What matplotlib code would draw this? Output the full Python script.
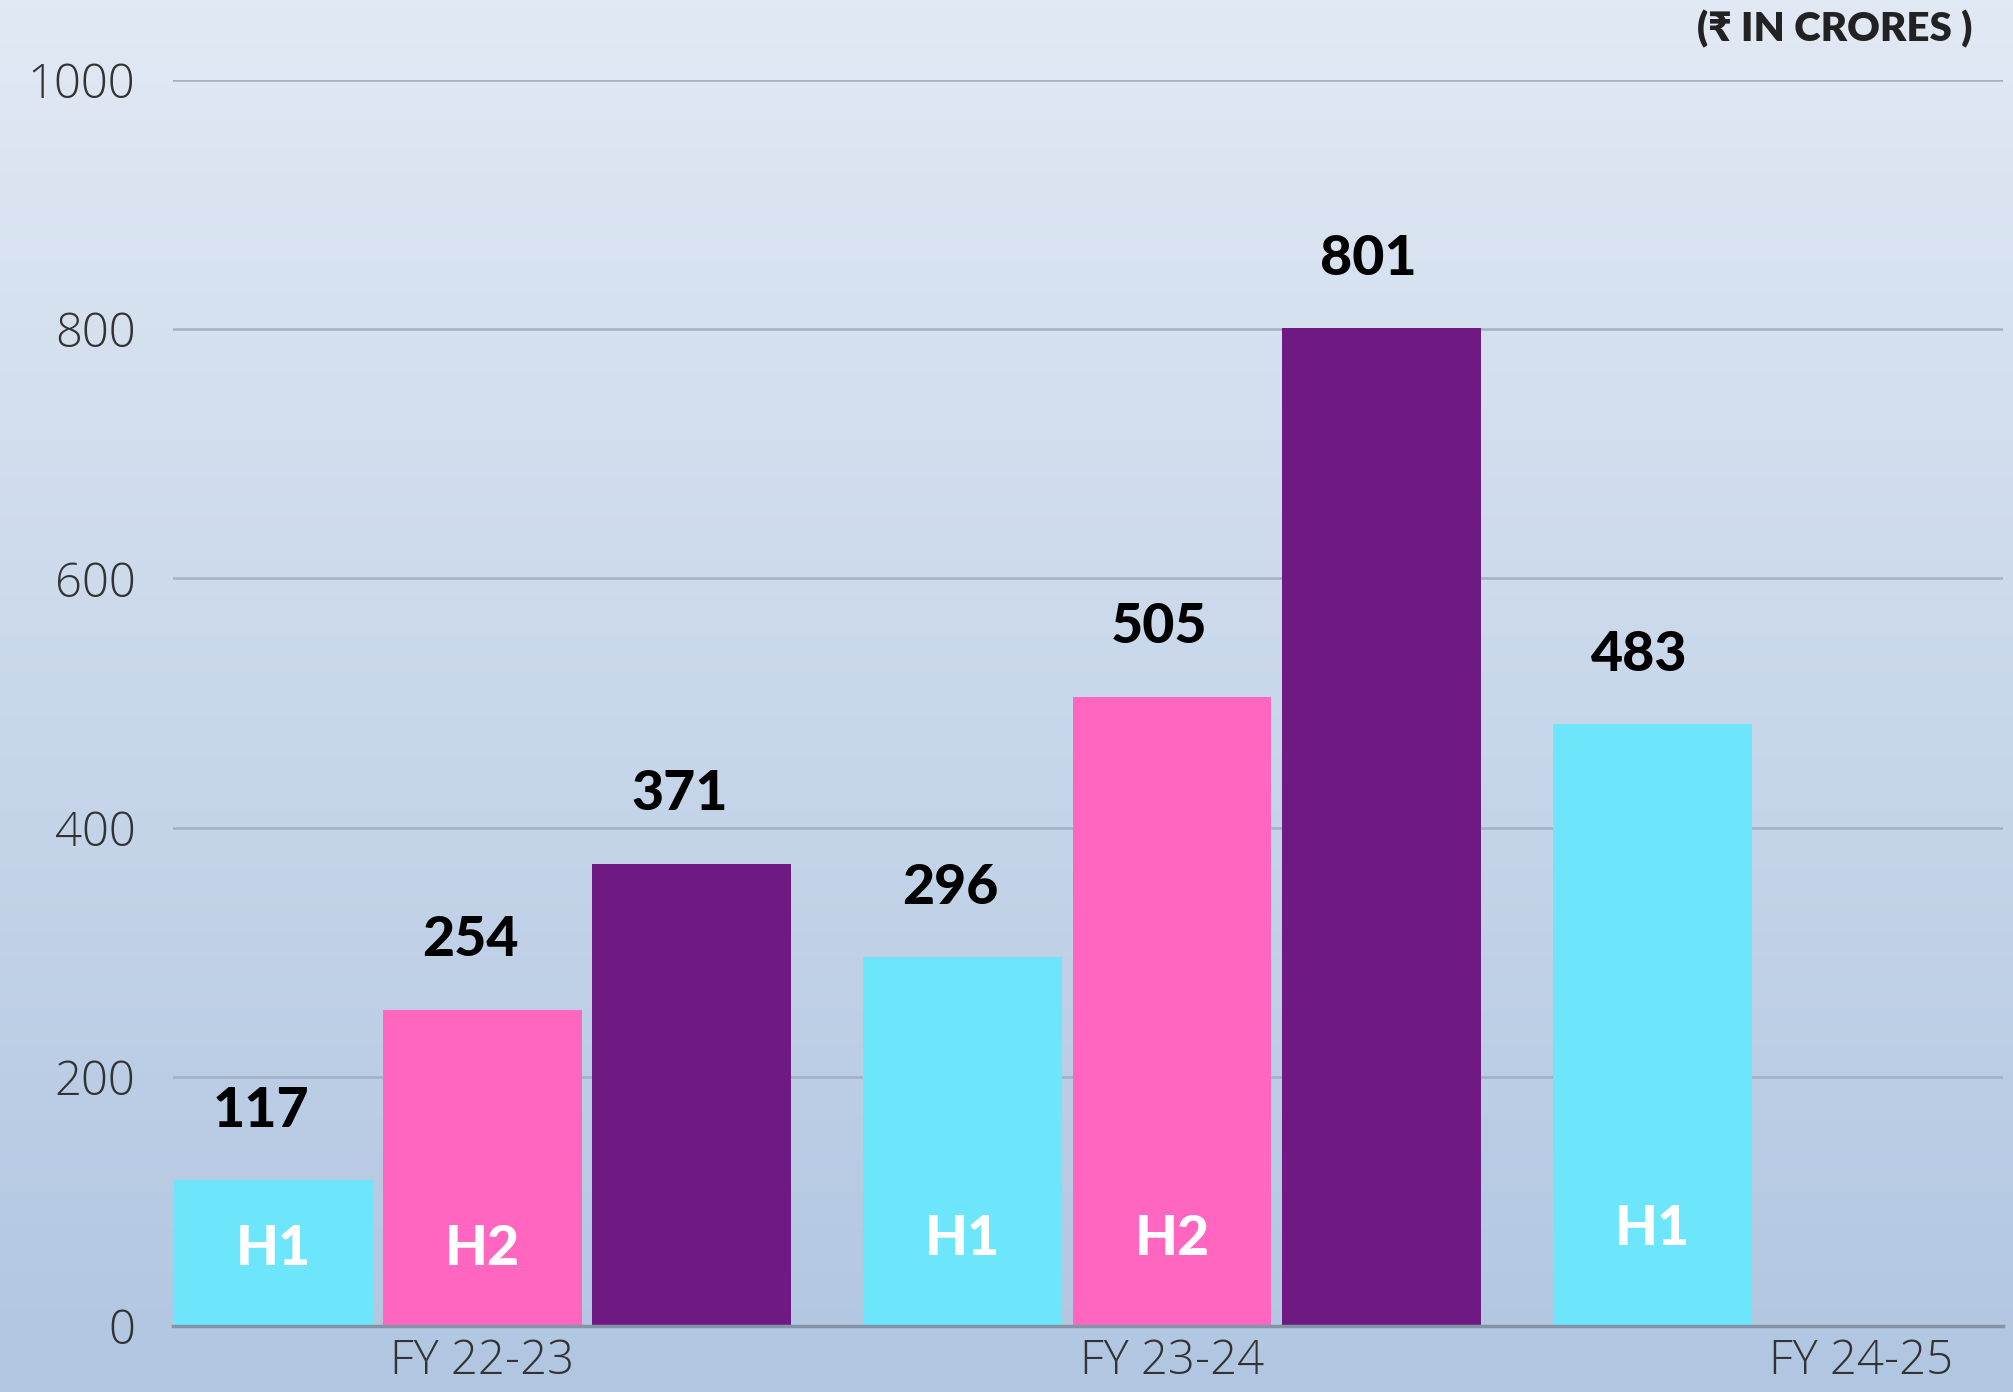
import matplotlib.pyplot as plt
import numpy as np
from matplotlib.colors import LinearSegmentedColormap

# chart data
periods = ['FY 22-23', 'FY 23-24', 'FY 24-25']
h1_values = [117, 296, 483]
h2_values = [254, 505, None]
fy_values = [371, 801, None]
y_ticks = [0, 200, 400, 600, 800, 1000]

CYAN = '#6de5fb'
PINK = '#ff66c0'
PURPLE = '#6e1a82'

fig = plt.figure(figsize=(20.13, 13.92), dpi=100)

# background gradient
bg = fig.add_axes([0, 0, 1, 1], zorder=-10)
cmap = LinearSegmentedColormap.from_list('bg', ['#e1e9f4', '#b1c6e1'])
bg.imshow(np.linspace(0, 1, 256).reshape(-1, 1), aspect='auto', cmap=cmap,
          extent=[0, 1, 0, 1])
bg.axis('off')

ax = fig.add_axes([0.0859, 0.0474, 0.9091, 0.8951])
ax.set_facecolor('none')

pitch = 3.294
width = 0.95
x = np.arange(len(periods)) * pitch

series = [(h1_values, CYAN, 'H1'), (h2_values, PINK, 'H2'), (fy_values, PURPLE, None)]
for k, (vals, color, tag) in enumerate(series):
    for i, v in enumerate(vals):
        if v is None:
            continue
        xc = x[i] + (k - 1)
        ax.bar(xc, v, width=width, color=color, zorder=3)
        ax.annotate(str(v), (xc - 0.06, v), xytext=(0, 50), textcoords='offset points',
                    ha='center', va='center', fontsize=40, fontweight='black',
                    family=['Lato', 'DejaVu Sans'], color='black', zorder=4)
        if tag:
            ax.text(xc, 62 + 8 * i, tag, ha='center', va='center', fontsize=40,
                    fontweight='black', family=['Lato', 'DejaVu Sans'],
                    color='white', zorder=4)

ax.set_xlim(-1.479, 7.264)
ax.set_ylim(0, 1000)
ax.set_yticks(y_ticks)
ax.set_xticks(x)
ax.set_xticklabels(periods)
ax.grid(axis='y', color='#a3b1c6', linewidth=1.8, zorder=0)
ax.tick_params(axis='both', length=0, labelsize=34, colors='#333333')
ax.tick_params(axis='y', pad=27)
ax.tick_params(axis='x', pad=8)
for lab in ax.get_xticklabels() + ax.get_yticklabels():
    lab.set_family(['Open Sans', 'DejaVu Sans'])
    lab.set_fontweight('light')

for side in ['top', 'right', 'left']:
    ax.spines[side].set_visible(False)
ax.spines['bottom'].set_color('#8593a8')
ax.spines['bottom'].set_linewidth(2.5)
ax.spines['bottom'].set_zorder(5)

fig.text(0.980, 0.979, '(₹ IN CRORES )', ha='right', va='center', fontsize=29,
         fontweight='heavy', family=['Lato', 'DejaVu Sans'], color='#222222')

fig.savefig('out.png', dpi=100)
